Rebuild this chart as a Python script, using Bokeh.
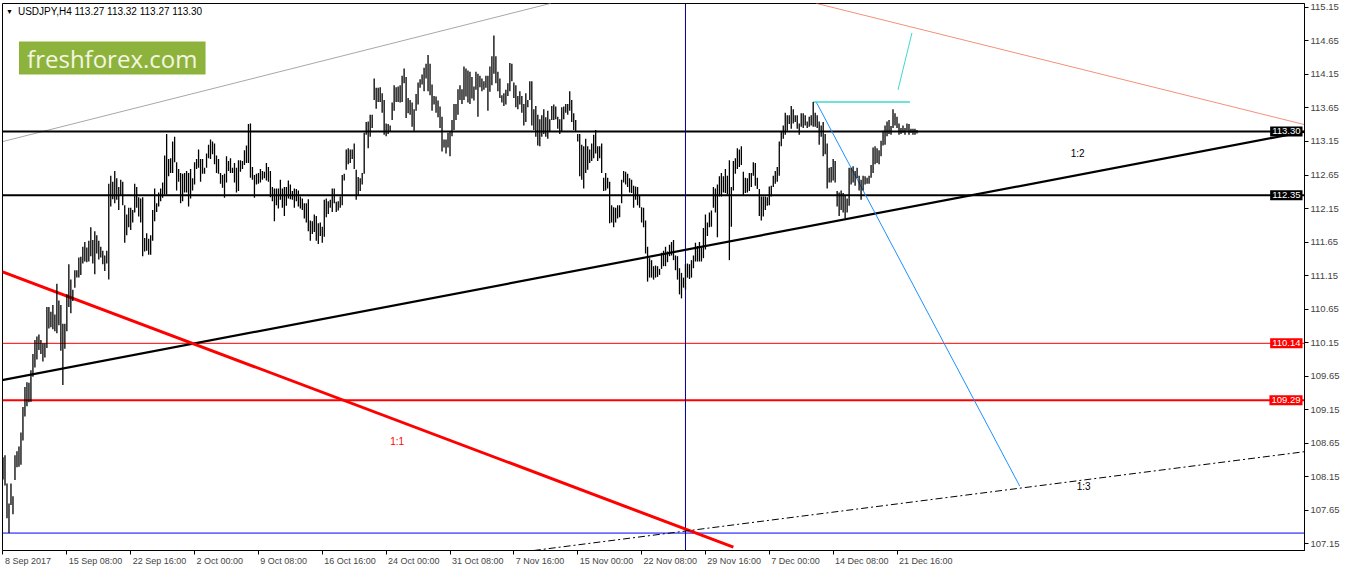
from bokeh.plotting import figure
from bokeh.models import (Range1d, FixedTicker, Label, BoxAnnotation, CustomJSTickFormatter,
                          LinearAxis)
from bokeh.embed import file_html
from bokeh.resources import INLINE

# ---------------- data ----------------
high = [
108.44,108.47,108.05,107.75,108.05,107.86,108.47,108.53,108.60,108.81,
109.19,109.49,109.56,109.55,109.74,109.98,110.19,110.24,110.27,110.19,
110.14,110.14,110.68,110.68,110.61,110.71,110.57,111.03,110.78,110.71,
110.43,110.43,110.87,111.32,111.09,110.94,111.23,111.23,111.42,111.43,
111.58,111.65,111.57,111.67,111.87,111.68,111.81,111.75,111.67,111.58,
111.52,111.45,111.52,112.52,112.64,112.55,112.71,112.60,112.47,112.58,
112.55,112.20,112.06,112.16,112.16,112.13,112.52,112.47,112.32,112.30,
112.32,111.71,111.78,111.70,111.75,112.13,112.45,112.23,112.39,112.45,
112.54,112.94,113.26,112.89,112.90,113.15,113.22,112.84,112.74,112.68,
112.67,112.68,112.71,112.68,112.74,112.60,112.84,112.89,113.03,112.89,
112.89,112.76,112.97,113.10,113.18,113.15,113.12,112.94,112.89,112.68,
112.65,112.67,112.93,112.86,112.90,112.76,112.83,112.76,112.87,112.87,
112.86,113.02,113.09,113.41,113.42,112.77,112.65,112.67,112.68,112.74,
112.71,112.70,112.83,112.77,112.71,112.47,112.45,112.45,112.45,112.58,
112.45,112.47,112.47,112.57,112.51,112.41,112.45,112.44,112.42,112.33,
112.30,112.23,112.23,112.29,111.97,111.96,112.06,112.04,111.93,111.94,
111.88,112.28,112.30,112.26,112.28,112.45,112.45,112.25,112.26,112.33,
112.65,112.67,113.03,113.05,113.03,113.03,113.12,112.73,112.62,112.60,
112.68,113.28,113.44,113.45,113.55,113.55,114.09,113.95,113.95,113.96,
113.87,113.77,113.42,113.41,113.39,113.73,113.99,113.96,113.97,113.99,
114.13,114.24,114.11,113.80,113.77,113.73,113.63,113.86,114.03,114.08,
114.15,114.25,114.31,114.44,114.31,114.00,113.83,113.82,113.76,113.67,
113.52,113.18,113.18,113.28,113.29,113.47,113.71,113.71,113.93,113.99,
113.93,114.27,114.24,114.21,114.19,114.11,113.97,114.19,114.16,114.13,
114.09,114.05,114.13,114.13,114.27,114.42,114.73,114.42,114.19,114.09,
113.84,113.87,113.92,114.02,114.32,114.31,114.03,113.99,113.83,113.90,
113.83,113.71,113.87,113.77,114.05,114.05,113.63,113.68,113.55,113.48,
113.54,113.63,113.51,113.61,113.48,113.68,113.70,113.67,113.52,113.48,
113.66,113.67,113.71,113.71,113.90,113.77,113.57,113.47,113.26,113.26,
113.10,113.08,113.19,113.08,113.03,113.12,113.25,113.32,113.08,113.08,
113.12,112.61,112.68,112.61,112.55,112.20,112.17,112.16,112.20,112.20,
112.58,112.71,112.70,112.67,112.60,112.58,112.49,112.48,112.47,112.35,
112.17,112.16,111.97,111.58,111.41,111.38,111.29,111.30,111.29,111.25,
111.49,111.52,111.58,111.51,111.61,111.65,111.68,111.45,111.44,111.26,
111.19,111.12,111.32,111.33,111.32,111.38,111.45,111.64,111.59,111.65,
111.57,111.86,112.06,111.94,112.09,112.12,112.47,112.45,112.51,112.63,
112.68,112.63,112.74,112.64,112.87,112.47,112.86,112.90,113.05,113.03,
113.08,112.70,112.61,112.60,112.68,112.68,112.84,112.83,112.61,112.44,
112.33,112.33,112.33,112.32,112.48,112.49,112.64,112.71,112.77,113.15,
113.29,113.39,113.58,113.54,113.54,113.68,113.63,113.54,113.54,113.42,
113.57,113.57,113.54,113.45,113.52,113.54,113.74,113.58,113.54,113.45,
113.39,113.44,113.26,113.12,112.76,112.77,112.89,112.86,112.41,112.39,
112.42,112.38,112.35,112.30,112.76,112.76,112.78,112.71,112.76,112.64,
112.58,112.64,112.63,112.61,112.64,112.80,113.06,113.08,113.05,113.02,
113.16,113.31,113.39,113.45,113.47,113.38,113.63,113.57,113.52,113.42,
113.35,113.39,113.35,113.42,113.41,113.34,113.34,113.34,113.32,
]
low = [
108.11,108.02,107.53,107.31,107.73,107.59,108.10,108.29,108.30,108.33,
108.69,109.05,109.20,109.26,109.27,109.64,109.78,109.90,110.04,109.98,
109.87,109.93,110.07,110.36,110.38,110.35,110.32,110.29,110.41,110.03,
109.52,110.06,110.32,110.68,110.59,110.77,110.97,111.12,111.12,111.16,
111.33,111.36,111.35,111.36,111.44,111.33,111.17,111.48,111.39,111.42,
111.32,111.22,111.33,111.09,112.18,112.29,112.23,112.28,112.13,112.35,
112.20,111.64,111.75,111.87,111.83,111.94,112.09,112.16,112.03,111.94,
111.44,111.51,111.52,111.46,111.46,111.67,111.96,112.10,112.18,112.26,
112.31,112.36,112.36,112.63,112.68,112.68,112.84,112.42,112.55,112.23,
112.26,112.39,112.39,112.18,112.30,112.42,112.51,112.74,112.76,112.55,
112.67,112.67,112.76,112.90,112.89,112.96,112.81,112.68,112.67,112.52,
112.46,112.31,112.54,112.71,112.68,112.68,112.54,112.39,112.41,112.70,
112.74,112.80,112.83,112.83,112.61,112.58,112.31,112.51,112.52,112.54,
112.58,112.60,112.57,112.55,112.32,112.26,111.96,112.20,112.15,112.28,
112.16,112.04,112.19,112.30,112.29,112.28,112.16,112.26,112.18,112.15,
112.13,112.00,111.94,111.81,111.67,111.77,111.80,111.67,111.62,111.74,
111.64,111.73,112.02,112.07,112.16,112.10,112.23,112.10,112.12,112.16,
112.20,112.57,112.73,112.81,112.83,112.89,112.74,112.28,112.35,112.41,
112.51,112.67,113.25,113.05,113.22,113.35,113.77,113.64,113.74,113.74,
113.58,113.25,113.23,113.26,113.29,113.47,113.61,113.74,113.74,113.73,
113.74,114.02,113.50,113.57,113.55,113.37,113.31,113.61,113.70,113.95,
114.00,113.90,114.09,113.90,113.84,113.61,113.70,113.58,113.51,113.35,
113.00,113.06,112.97,113.06,112.93,113.23,113.32,113.47,113.55,113.77,
113.71,113.77,113.82,113.73,113.71,113.79,113.76,113.92,113.52,113.96,
113.90,113.92,113.95,113.61,113.89,113.99,114.16,114.02,113.90,113.80,
113.73,113.68,113.70,113.83,113.90,114.05,113.80,113.66,113.63,113.70,
113.58,113.39,113.44,113.66,113.77,113.39,113.32,113.22,113.09,113.08,
113.22,113.26,113.22,113.19,113.29,113.47,113.47,113.48,113.34,113.26,
113.29,113.48,113.58,113.55,113.61,113.44,113.32,113.29,113.15,112.63,
112.58,112.45,112.68,112.73,112.83,112.86,112.90,112.97,112.86,112.90,
112.68,112.41,112.42,112.45,111.93,111.94,111.87,111.94,112.00,112.02,
112.23,112.54,112.51,112.47,112.39,112.38,112.16,112.28,112.20,112.16,
111.94,111.87,111.48,111.06,111.12,111.12,111.09,111.12,111.13,111.16,
111.25,111.29,111.29,111.35,111.44,111.45,111.38,111.23,111.09,110.87,
110.81,110.97,110.94,111.12,111.10,111.12,111.26,111.36,111.36,111.36,
111.36,111.41,111.54,111.74,111.87,111.88,112.16,112.09,111.72,112.33,
112.33,112.39,112.38,112.36,111.38,111.88,112.42,112.67,112.74,112.77,
112.80,112.35,112.38,112.39,112.41,112.47,112.64,112.49,112.44,112.04,
111.97,112.03,112.13,112.19,112.20,112.33,112.47,112.52,112.55,112.64,
113.08,113.19,113.25,113.31,113.41,113.34,113.42,113.44,113.34,113.25,
113.37,113.35,113.39,113.35,113.37,113.39,113.37,113.37,113.35,113.10,
113.22,112.93,112.96,112.45,112.54,112.54,112.57,112.54,112.18,112.04,
112.13,112.09,112.00,112.09,112.19,112.51,112.54,112.49,112.60,112.42,
112.28,112.42,112.51,112.52,112.52,112.61,112.68,112.81,112.83,112.81,
112.93,113.09,113.10,113.23,113.26,113.25,113.35,113.39,113.35,113.25,
113.26,113.28,113.25,113.31,113.25,113.28,113.25,113.25,113.27,
]
bar_idx = list(range(len(high)))

tick_idx = [0, 32, 64, 96, 128, 160, 192, 224, 256, 288, 320, 352, 384, 416, 448]
tick_text = ["8 Sep 2017", "15 Sep 08:00", "22 Sep 16:00", "2 Oct 00:00", "9 Oct 08:00",
             "16 Oct 16:00", "24 Oct 00:00", "31 Oct 08:00", "7 Nov 16:00", "15 Nov 00:00",
             "22 Nov 08:00", "29 Nov 16:00", "7 Dec 00:00", "14 Dec 08:00", "21 Dec 16:00"]
price_ticks = [107.15 + 0.5 * k for k in range(17)]

# horizontal levels
levels_black = [113.30, 112.35]
levels_red_thin = [110.14]
levels_red_thick = [109.29]
level_blue = 107.31
vline_idx = 342

# trend lines (bar index, price)
gray_x, gray_y = [0, 274.5], [113.15, 115.21]
salmon_x, salmon_y = [407.5, 656.5], [115.21, 113.37]
black_tl_x, black_tl_y = [-0.5, 656.5], [109.59, 113.32]
red_tl_x, red_tl_y = [-0.5, 366], [111.21, 107.10]
dashdot_x, dashdot_y = [266, 656.5], [107.05, 108.54]
dblue_x, dblue_y = [407.5, 509.5], [113.74, 108.01]
cyan_h_x, cyan_h_y = [406, 454.5], [113.74, 113.74]
cyan_s_x, cyan_s_y = [448.5, 455.5], [113.92, 114.77]

# ---------------- figure ----------------
FONT = "Liberation Sans"
XFS = 9            # px, date label font size
PX_PER_BAR = 2.0
X0, X1 = -0.25, 652.2
Y0, Y1 = 107.05, 115.208
p = figure(width=1342, height=568, output_backend="svg", toolbar_location=None,
           x_range=Range1d(X0, X1), y_range=Range1d(Y0, Y1),
           y_axis_location="right", min_border_left=2, min_border_top=3,
           min_border_right=0, min_border_bottom=0)
p.grid.visible = False
p.outline_line_color = "black"
p.outline_line_width = 1
p.background_fill_color = "white"
p.border_fill_color = "white"

p.yaxis.ticker = FixedTicker(ticks=price_ticks)
p.yaxis.formatter = CustomJSTickFormatter(code="return tick.toFixed(2);")
p.yaxis.major_tick_out = 4
p.yaxis.major_tick_in = 0
p.yaxis.minor_tick_line_color = None
p.yaxis.major_label_text_font = FONT
p.yaxis.major_label_text_font_size = "9.5px"
p.yaxis.major_label_standoff = 2
p.yaxis.axis_line_color = "black"

# x axis: tick marks only
p.xaxis.ticker = FixedTicker(ticks=tick_idx)
p.xaxis.formatter = CustomJSTickFormatter(code="return '';")
p.xaxis.major_label_text_font_size = "1px"
p.xaxis.major_label_standoff = 0
p.xaxis.major_tick_out = 4
p.xaxis.major_tick_in = 0
p.xaxis.minor_tick_line_color = None
p.xaxis.axis_line_color = "black"

# second axis carrying the date labels, each one starting at its tick (terminal style)
CW = {" ": .278, ":": .278, "S": .667, "e": .556, "p": .556, "O": .778, "c": .5, "t": .278,
      "N": .722, "o": .556, "v": .5, "D": .722}
def text_px(s):
    return sum(CW.get(ch, .556) for ch in s) * XFS
label_pos = [round(t + (text_px(s) / 2 + 2) / PX_PER_BAR, 2) for t, s in zip(tick_idx, tick_text)]
date_axis = LinearAxis(ticker=FixedTicker(ticks=label_pos),
                       formatter=CustomJSTickFormatter(args=dict(labels=tick_text),
                                                       code="return labels[index];"),
                       major_tick_out=0, major_tick_in=0, minor_tick_line_color=None,
                       axis_line_color=None, major_label_standoff=1,
                       major_label_text_font=FONT, major_label_text_font_size=f"{XFS}px")
p.add_layout(date_axis, "below")

# trend lines behind bars
p.line(gray_x, gray_y, line_color="#a8a8a8", line_width=1)
p.line(salmon_x, salmon_y, line_color="#f4907a", line_width=1)

# horizontal levels
for lv in levels_black:
    p.line([X0, X1], [lv, lv], line_color="black", line_width=2)
for lv in levels_red_thin:
    p.line([X0, X1], [lv, lv], line_color="#ff0000", line_width=1)
for lv in levels_red_thick:
    p.line([X0, X1], [lv, lv], line_color="#ff0000", line_width=2)
p.line([X0, X1], [level_blue, level_blue], line_color="#0000ff", line_width=1)
p.line([vline_idx, vline_idx], [Y0, Y1], line_color="#000090", line_width=1)

p.line(black_tl_x, black_tl_y, line_color="black", line_width=2.2)
p.line(red_tl_x, red_tl_y, line_color="#ff0000", line_width=3)
p.line(dashdot_x, dashdot_y, line_color="black", line_width=1, line_dash="7 3 2 3")
p.line(dblue_x, dblue_y, line_color="#1e90ff", line_width=1)
p.line(cyan_h_x, cyan_h_y, line_color="#40d8d0", line_width=1.5)
p.line(cyan_s_x, cyan_s_y, line_color="#40d8d0", line_width=1)

# price bars (high-low)
p.segment(x0=bar_idx, y0=low, x1=bar_idx, y1=high, line_color="black", line_width=1.3)

# logo
p.add_layout(BoxAnnotation(left=8, right=101.5, top=114.64, bottom=114.15,
                           fill_color="#8db33c", fill_alpha=1, line_color=None))
p.add_layout(Label(x=54.75, y=114.395, text="freshforex.com", text_align="center",
                   text_baseline="middle", text_font="Open Sans", text_font_size="24px",
                   text_color="#f4f6e2"))
# title
p.add_layout(Label(x=1.5, y=115.09, text="\u25BC", text_align="left", text_baseline="middle",
                   text_font=FONT, text_font_size="7px", text_color="black"))
p.add_layout(Label(x=7.5, y=115.09, text="USDJPY,H4  113.27 113.32 113.27 113.30",
                   text_align="left", text_baseline="middle", text_font=FONT,
                   text_font_size="10px", text_color="black"))

# ratio labels
for tx, ty, tt, tc in [(538.5, 112.97, "1:2", "black"), (197.5, 108.68, "1:1", "#ff0000"),
                       (541.5, 108.01, "1:3", "black")]:
    p.add_layout(Label(x=tx, y=ty, text=tt, text_align="center", text_baseline="middle",
                       text_font=FONT, text_font_size="10px", text_color=tc))

# price tags at the price scale (kept against the right edge of the plot area)
for lv, bg in [(113.30, "black"), (112.35, "black"), (110.14, "#ff0000"), (109.29, "#ff0000")]:
    p.add_layout(Label(x=X1, y=lv, text=f"{lv:.2f}", x_offset=-2, text_align="right",
                       text_baseline="middle", text_font=FONT, text_font_size="9.5px",
                       text_color="white", background_fill_color=bg, padding=2))

open("out.html", "w").write(file_html(p, INLINE))
